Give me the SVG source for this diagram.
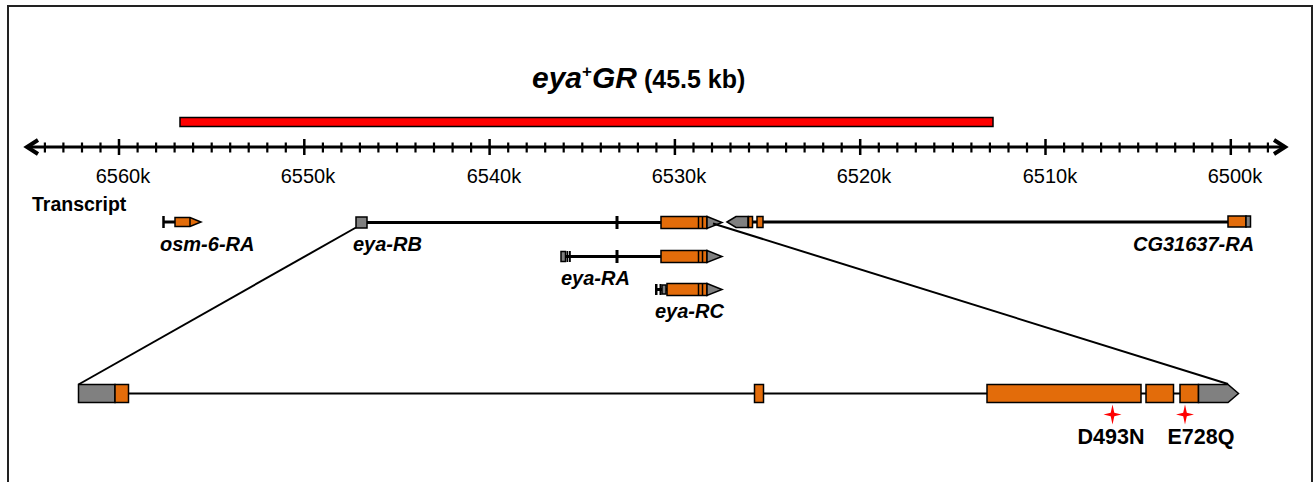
<svg xmlns="http://www.w3.org/2000/svg" width="1315" height="482" viewBox="0 0 1315 482">
  <style>
    text { font-family: "Liberation Sans", Arial, sans-serif; fill: #000; }
    .axis-label { font-size: 20px; text-anchor: middle; }
    .tx-label { font-size: 20px; font-weight: bold; font-style: italic; }
    .mut-label { font-size: 21.5px; font-weight: bold; text-anchor: middle; }
    .exon-cds { fill: #e36c0a; stroke: #000; stroke-width: 1.5; }
    .exon-utr { fill: #808080; stroke: #000; stroke-width: 1.5; }
    .intron { stroke: #000; stroke-width: 3; fill: none; }
    .intron-thin { stroke: #000; stroke-width: 2; fill: none; }
    .stripe { stroke: #000; stroke-width: 1.5; }
    .bar { fill: #000; }
    .zoom-line { stroke: #000; stroke-width: 2; fill: none; }
    .star { fill: #ff0000; }
  </style>

  <!-- outer frame -->
  <rect x="8" y="6" width="1304" height="500" fill="#fff" stroke="#222" stroke-width="2"/>

  <!-- construct title -->
  <g id="title">
    <text x="532" y="88" font-weight="bold"><tspan font-size="30" font-style="italic">eya</tspan><tspan font-size="17" dy="-11">+</tspan><tspan font-size="30" font-style="italic" dy="11">GR</tspan><tspan font-size="25"> (45.5 kb)</tspan></text>
  </g>

  <!-- genomic rescue construct -->
  <g id="construct">
    <rect x="180" y="117.5" width="813" height="9" fill="#ff0000" stroke="#000" stroke-width="1.5"/>
  </g>

  <!-- coordinate axis: 1 kb minor ticks, 10 kb major ticks -->
  <g id="axis">
    <line x1="28" y1="147" x2="1284" y2="147" stroke="#000" stroke-width="3"/>
    <polyline points="38,140 27,147 38,154" fill="none" stroke="#000" stroke-width="4" stroke-linejoin="miter"/>
    <polyline points="1274,140 1285,147 1274,154" fill="none" stroke="#000" stroke-width="4" stroke-linejoin="miter"/>
    <path stroke="#000" stroke-width="2.2" fill="none" d="
      M44.9 142.5V152.5 M63.4 142.5V152.5 M82.0 142.5V152.5 M100.5 142.5V152.5
      M137.6 142.5V152.5 M156.1 142.5V152.5 M174.6 142.5V152.5 M193.1 142.5V152.5 M211.7 142.5V152.5
      M230.2 142.5V152.5 M248.7 142.5V152.5 M267.3 142.5V152.5 M285.8 142.5V152.5
      M322.9 142.5V152.5 M341.4 142.5V152.5 M359.9 142.5V152.5 M378.4 142.5V152.5 M397.0 142.5V152.5
      M415.5 142.5V152.5 M434.0 142.5V152.5 M452.6 142.5V152.5 M471.1 142.5V152.5
      M508.2 142.5V152.5 M526.7 142.5V152.5 M545.2 142.5V152.5 M563.7 142.5V152.5 M582.3 142.5V152.5
      M600.8 142.5V152.5 M619.3 142.5V152.5 M637.9 142.5V152.5 M656.4 142.5V152.5
      M693.5 142.5V152.5 M712.0 142.5V152.5 M730.5 142.5V152.5 M749.0 142.5V152.5 M767.6 142.5V152.5
      M786.1 142.5V152.5 M804.6 142.5V152.5 M823.2 142.5V152.5 M841.7 142.5V152.5
      M878.8 142.5V152.5 M897.3 142.5V152.5 M915.8 142.5V152.5 M934.3 142.5V152.5 M952.9 142.5V152.5
      M971.4 142.5V152.5 M989.9 142.5V152.5 M1008.5 142.5V152.5 M1027.0 142.5V152.5
      M1064.1 142.5V152.5 M1082.6 142.5V152.5 M1101.1 142.5V152.5 M1119.6 142.5V152.5 M1138.2 142.5V152.5
      M1156.7 142.5V152.5 M1175.2 142.5V152.5 M1193.8 142.5V152.5 M1212.3 142.5V152.5
      M1249.4 142.5V152.5 M1267.9 142.5V152.5"/>
    <path stroke="#000" stroke-width="2.5" fill="none" d="
      M119.0 139V155 M304.3 139V155 M489.6 139V155 M674.9 139V155
      M860.2 139V155 M1045.5 139V155 M1230.8 139V155"/>
    <text class="axis-label" x="123" y="183">6560k</text>
    <text class="axis-label" x="308" y="183">6550k</text>
    <text class="axis-label" x="494" y="183">6540k</text>
    <text class="axis-label" x="679" y="183">6530k</text>
    <text class="axis-label" x="864" y="183">6520k</text>
    <text class="axis-label" x="1050" y="183">6510k</text>
    <text class="axis-label" x="1235" y="183">6500k</text>
  </g>

  <text x="32" y="211" font-size="19.5" font-weight="bold">Transcript</text>

  <!-- osm-6-RA -->
  <g id="osm-6-RA">
    <line x1="163.5" y1="216" x2="163.5" y2="228" stroke="#000" stroke-width="2.5"/>
    <line x1="164" y1="222" x2="175" y2="222" class="intron"/>
    <path class="exon-cds" d="M175 217.5H190L201 222L190 226.5H175Z"/>
    <line x1="190" y1="217.5" x2="190" y2="226.5" class="stripe"/>
    <text class="tx-label" x="160" y="251">osm-6-RA</text>
  </g>

  <!-- eya-RB -->
  <g id="eya-RB">
    <line x1="367" y1="222.5" x2="661" y2="222.5" class="intron"/>
    <rect class="exon-utr" x="356" y="217" width="11" height="11"/>
    <rect class="bar" x="615.5" y="216" width="3" height="13"/>
    <rect class="exon-cds" x="661" y="216.5" width="46" height="12"/>
    <path class="stripe" d="M698.5 216.5V228.5M702.5 216.5V228.5"/>
    <path class="exon-utr" d="M707 216.5L722 222.5L707 228.5Z"/>
    <text class="tx-label" x="353" y="251">eya-RB</text>
  </g>

  <!-- CG31637-RA (reverse strand) -->
  <g id="CG31637-RA">
    <line x1="763" y1="222" x2="1228" y2="222" class="intron"/>
    <path class="exon-utr" d="M727 222L736 216.5H748V227.5H736Z"/>
    <line x1="752" y1="222" x2="757" y2="222" class="intron"/>
    <rect class="exon-cds" x="748.5" y="216.5" width="4" height="11"/>
    <rect class="exon-cds" x="757" y="216.5" width="6" height="11"/>
    <rect class="exon-cds" x="1228" y="216" width="18" height="11"/>
    <rect class="exon-utr" x="1246" y="216" width="4.5" height="11"/>
    <text class="tx-label" x="1133" y="251">CG31637-RA</text>
  </g>

  <!-- eya-RA -->
  <g id="eya-RA">
    <line x1="565" y1="256.5" x2="661" y2="256.5" class="intron"/>
    <rect class="exon-utr" x="561" y="251.5" width="4.5" height="10"/>
    <rect class="bar" x="566.5" y="251" width="1.8" height="11"/>
    <rect class="bar" x="569" y="251" width="1.8" height="11"/>
    <rect class="bar" x="615.5" y="250" width="3" height="13"/>
    <rect class="exon-cds" x="661" y="250.5" width="46" height="12"/>
    <path class="stripe" d="M698.5 250.5V262.5M702.5 250.5V262.5"/>
    <path class="exon-utr" d="M707 250.5L722 256.5L707 262.5Z"/>
    <text class="tx-label" x="561" y="285">eya-RA</text>
  </g>

  <!-- eya-RC -->
  <g id="eya-RC">
    <line x1="656" y1="289.5" x2="667" y2="289.5" class="intron"/>
    <rect class="bar" x="655" y="284" width="2.5" height="11"/>
    <rect class="bar" x="659.5" y="284" width="2" height="11"/>
    <rect class="exon-utr" x="662" y="285" width="4" height="9" fill="#555"/>
    <rect class="exon-cds" x="667" y="283.5" width="40" height="12"/>
    <path class="stripe" d="M698.5 283.5V295.5M702.5 283.5V295.5"/>
    <path class="exon-utr" d="M707 283.5L722 289.5L707 295.5Z"/>
    <text class="tx-label" x="655" y="318">eya-RC</text>
  </g>

  <!-- zoom-in lines linking eya-RB to the enlarged gene model -->
  <g id="connectors">
    <line class="zoom-line" x1="356" y1="227.5" x2="78.5" y2="384.5"/>
    <line class="zoom-line" x1="713" y1="223.5" x2="1228" y2="384"/>
  </g>

  <!-- enlarged eya-RB gene model -->
  <g id="eya-RB-detail">
    <line x1="128.5" y1="393.5" x2="987" y2="393.5" class="intron-thin"/>
    <line x1="1141" y1="393.5" x2="1180" y2="393.5" class="intron-thin"/>
    <rect class="exon-utr" x="78.5" y="384.5" width="36.5" height="18"/>
    <rect class="exon-cds" x="115" y="384.5" width="13.5" height="18"/>
    <rect class="exon-cds" x="754.5" y="384.5" width="9" height="18"/>
    <rect class="exon-cds" x="987" y="384.5" width="154" height="18"/>
    <rect class="exon-cds" x="1146" y="384.5" width="27.5" height="18"/>
    <rect class="exon-cds" x="1180" y="384.5" width="18.5" height="18"/>
    <path class="exon-utr" d="M1198.5 384.5H1228L1238.5 393.5L1228 402.5H1198.5Z"/>
  </g>

  <!-- point mutations -->
  <g id="D493N">
    <path class="star" d="M1112.5 404.5L1114.3 412.7L1121.5 414.5L1114.3 416.3L1112.5 424.5L1110.7 416.3L1103.5 414.5L1110.7 412.7Z"/>
    <text class="mut-label" x="1111" y="444">D493N</text>
  </g>
  <g id="E728Q">
    <path class="star" d="M1185 404.5L1186.8 412.7L1194 414.5L1186.8 416.3L1185 424.5L1183.2 416.3L1176 414.5L1183.2 412.7Z"/>
    <text class="mut-label" x="1201" y="444">E728Q</text>
  </g>
</svg>
